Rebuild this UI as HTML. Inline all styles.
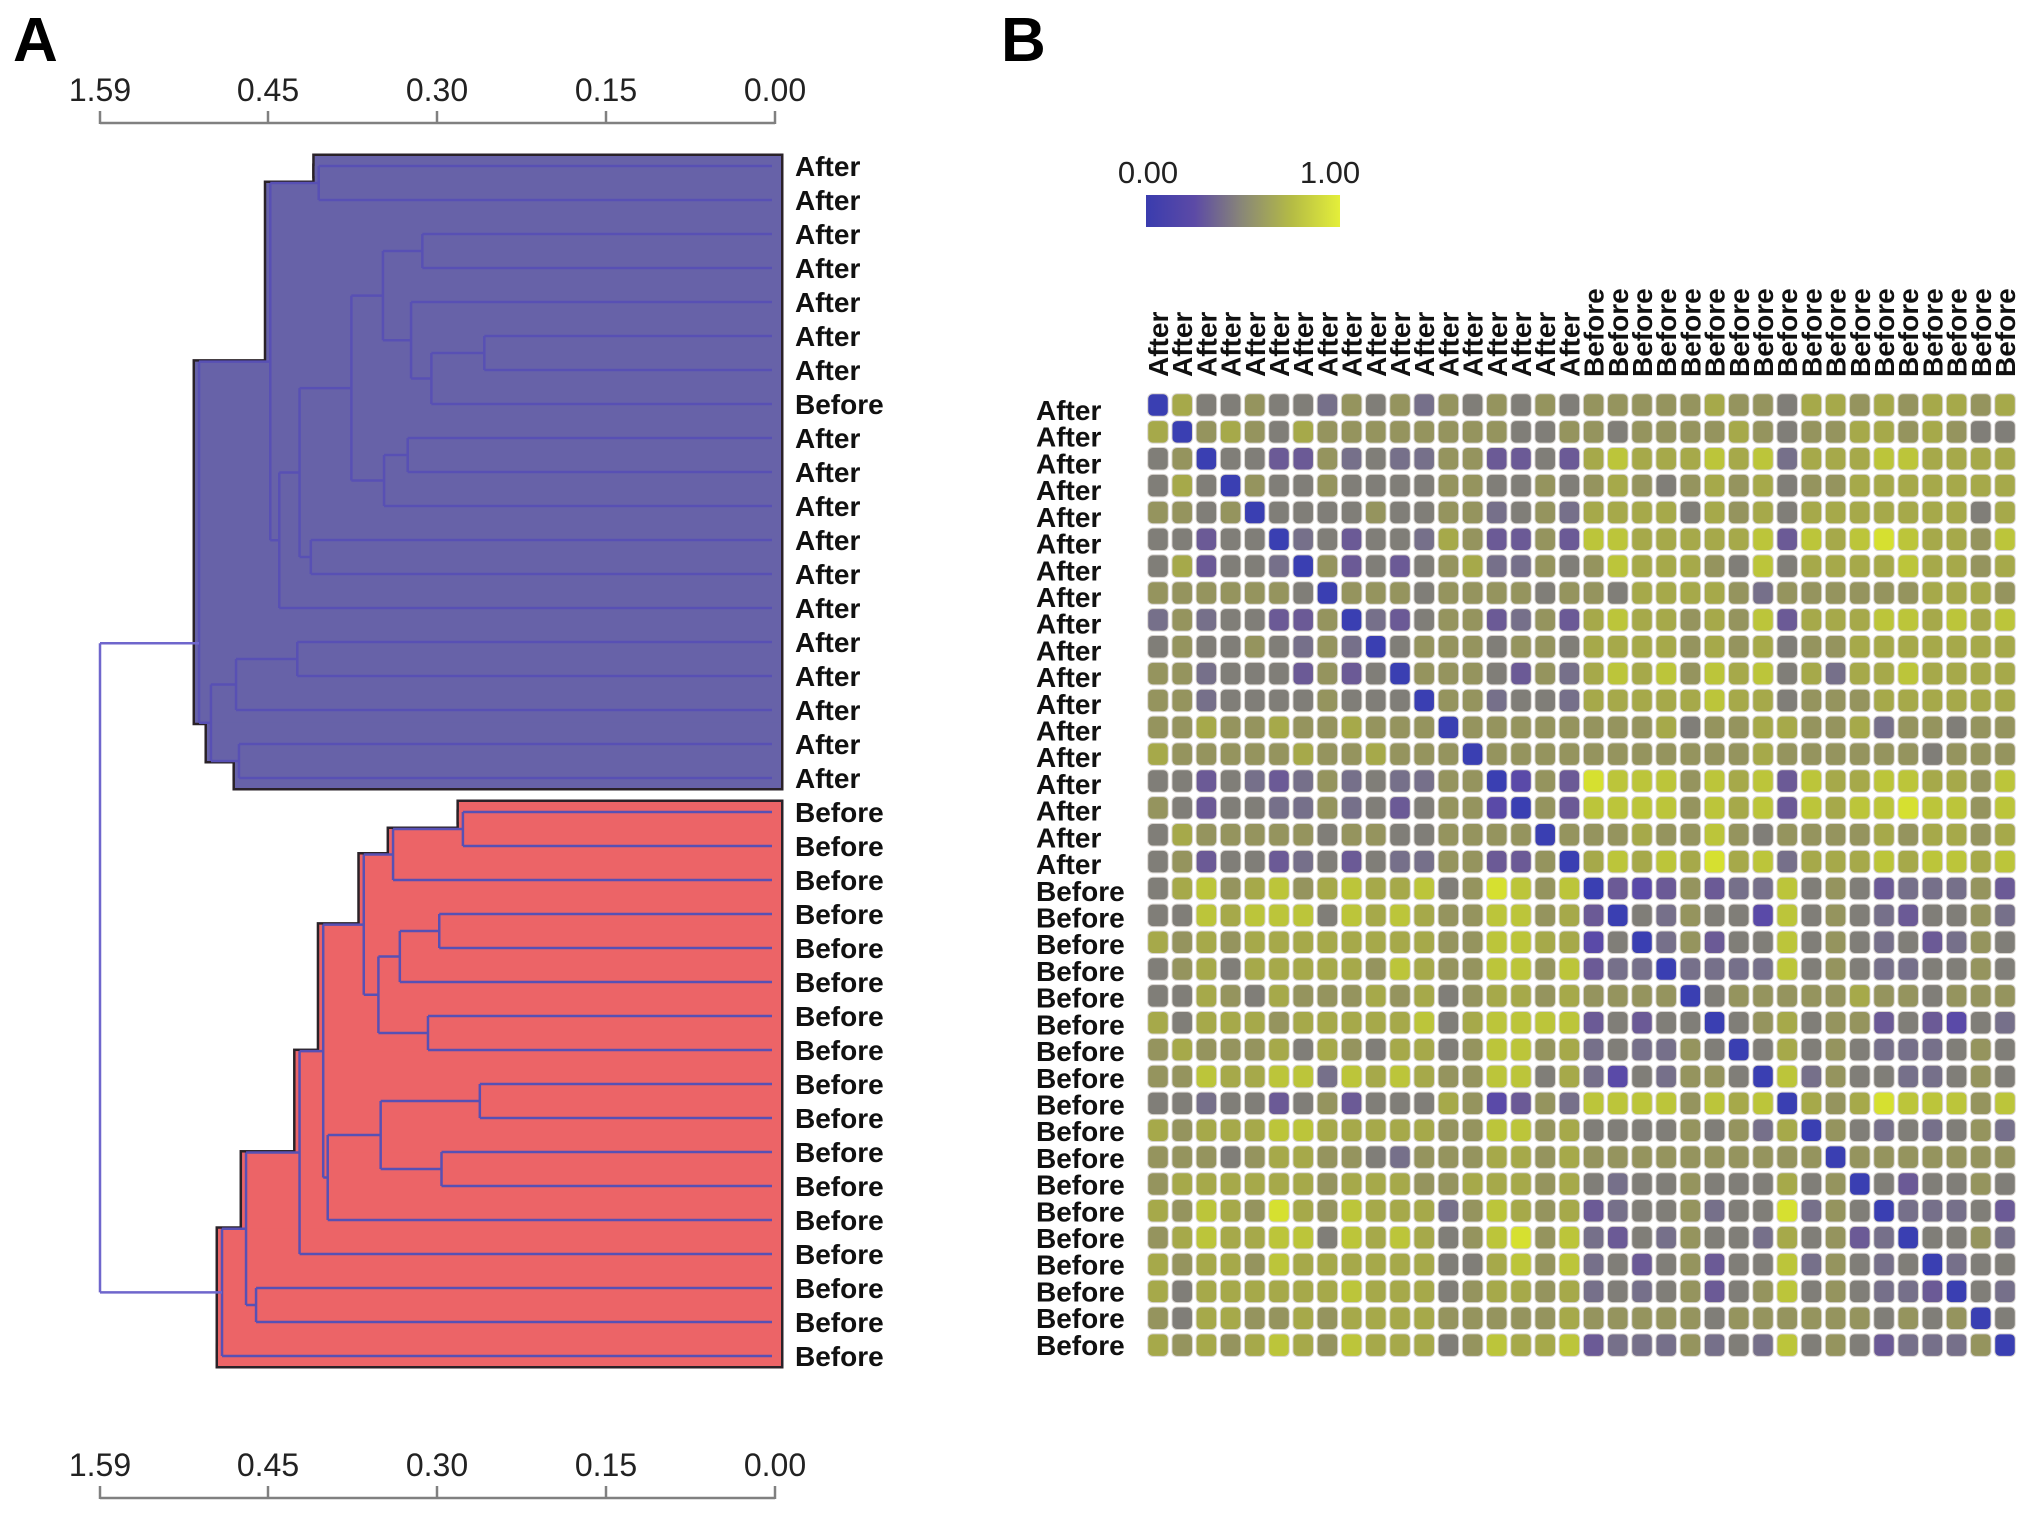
<!DOCTYPE html>
<html><head><meta charset="utf-8">
<style>
html,body{margin:0;padding:0;background:#fff;}
#root{position:relative;width:2031px;height:1514px;overflow:hidden;}
svg text{font-family:"Liberation Sans",Arial,sans-serif;}
</style></head>
<body>
<div id="root">
<svg id="svg" width="2031" height="1514" viewBox="0 0 2031 1514" xmlns="http://www.w3.org/2000/svg">
  <defs>
    <linearGradient id="cbar" x1="0" x2="1" y1="0" y2="0">
      <stop offset="0" stop-color="#3a3cae"/>
      <stop offset="0.25" stop-color="#5c4aa6"/>
      <stop offset="0.5" stop-color="#8a8876"/>
      <stop offset="0.75" stop-color="#b4bb45"/>
      <stop offset="1" stop-color="#e4ef3a"/>
    </linearGradient>
  </defs>
  <text x="13" y="61" font-size="62" font-weight="bold" fill="#000">A</text>
  <text x="1001" y="61" font-size="62" font-weight="bold" fill="#000">B</text>
  <g id="dendro"></g>
  <g id="heat"></g>
  <g>
    <rect x="1146" y="195" width="194" height="32" fill="url(#cbar)"/>
    <text x="1148" y="183" font-size="31" text-anchor="middle" fill="#222">0.00</text>
    <text x="1330" y="183" font-size="31" text-anchor="middle" fill="#222">1.00</text>
  </g>
</svg>
</div>
<script>
const NS = "http://www.w3.org/2000/svg";
// ---------- Dendrogram data ----------
const leafLabels = ["After","After","After","After","After","After","After","Before","After","After","After","After","After","After","After","After","After","After","After",
  "Before","Before","Before","Before","Before","Before","Before","Before","Before","Before","Before","Before","Before","Before","Before","Before","Before"];
const mergeLeft  = [0,2,5,38,4,37,8,42,41,11,44,46,36,14,49,17,50,48, 19,54,22,56,25,57,55,27,29,61,63,60,65,33,66,68,53];
const mergeRight = [1,3,6,7,39,40,9,10,43,12,45,13,47,15,16,18,51,52, 20,21,23,24,26,58,59,28,30,62,31,64,32,34,67,35,69];
const mergeDist  = [0.405,0.313,0.258,0.305,0.323,0.348,0.326,0.347,0.376,0.412,0.422,0.44,0.448,0.424,0.667,0.647,0.837,0.918,
  0.277,0.339,0.298,0.333,0.308,0.352,0.365,0.262,0.296,0.35,0.397,0.401,0.422,0.531,0.599,0.762,1.59];
const axisTicks = [1.59,0.45,0.30,0.15,0.00];
const axisTickLabels = ["1.59","0.45","0.30","0.15","0.00"];

// ---------- Heatmap data (0 = blue/0.00 ... 9 = yellow/1.00) ----------
const heatRowLabels = leafLabels.slice(0,18).map(()=>"After").concat(Array(18).fill("Before"));
const heatColLabels = Array(18).fill("After").concat(Array(18).fill("Before"));
const heatRows = [
"075565546564656565"+"666667665776767767",
"706765766666666556"+"656666765667767655",
"560553364544663353"+"787778784777887777",
"575065565555665565"+"676567675667777777",
"665605555655664564"+"777757675777777757",
"553550453554763363"+"887777783878987768",
"573554063535674465"+"687776585777787767",
"666666506665666656"+"657777646666667776",
"464553360435663463"+"787767683777887878",
"565565464056665665"+"777767675667777777",
"664555363506665364"+"787868785747787777",
"664555565550664554"+"777778775666777777",
"667667667666066666"+"666756677667466566",
"766666766766606666"+"666666676666665666",
"553543464544660263"+"988868783877887768",
"653554464535662063"+"888868783878898868",
"576666656655666606"+"667668656666767767",
"563553453544663360"+"787879784777878878",
"578678678778569868"+"032363448565344463",
"558788858787668867"+"305465528565435564",
"767677777777668877"+"250463558565453465",
"567577777687668868"+"344044448565445565",
"557657666767567767"+"666605666667665666",
"757776777778578888"+"353550567566353254",
"676667576577568867"+"454465057565444565",
"668778848787668857"+"425466508465544565",
"554553563555762364"+"888868780767988868",
"767778877777668867"+"555565647065454564",
"666567766546667767"+"666666666606666666",
"677777767776677767"+"545565557560535565",
"768769768777468767"+"345564559465044453",
"678778858787568968"+"435465547563405564",
"767768777777557868"+"453563558465450455",
"757777778777567767"+"454563568565443054",
"657766767777666667"+"666665666666565605",
"767678768777568778"+"344464548565344460"
];

function el(tag, attrs, parent){
  const e = document.createElementNS(NS, tag);
  for (const k in attrs) e.setAttribute(k, attrs[k]);
  parent.appendChild(e);
  return e;
}

// ---------- Dendrogram ----------
const dg = document.getElementById('dendro');
const RIGHT = 775, X045 = 268, XMAX = 100;
function xScale(d){
  if (d <= 0.45) return RIGHT - d/0.45*(RIGHT - X045);
  return X045 - (d-0.45)/(1.59-0.45)*(X045 - XMAX);
}
const leafY0 = 166, leafStep = 34;
function leafY(i){ return leafY0 + i*leafStep; }
const nLeaf = leafLabels.length;
const nodeX = [], nodeY = [], parentOf = [];
for (let i=0;i<nLeaf;i++){ nodeX[i]=RIGHT; nodeY[i]=leafY(i); }
for (let k=0;k<mergeDist.length;k++){
  const id = nLeaf+k, a=mergeLeft[k], b=mergeRight[k];
  nodeX[id] = xScale(mergeDist[k]);
  nodeY[id] = (nodeY[a]+nodeY[b])/2;
  parentOf[a]=id; parentOf[b]=id;
}
const ROOT = nLeaf + mergeDist.length - 1;
const blueRoot = mergeLeft[mergeDist.length-1], redRoot = mergeRight[mergeDist.length-1];
(function(){
  const k = blueRoot - nLeaf, a = mergeLeft[k], b = mergeRight[k];
  nodeY[blueRoot] = nodeY[a] + 0.78*(nodeY[b]-nodeY[a]);
})();
function under(node, top){ let n=node; while(n!==undefined){ if(n===top) return true; n=parentOf[n]; } return false; }

function drawAxis(lineY, labelY, name){
  const g = el('g', {}, dg);
  
  
  const ln = el('line', {x1:xScale(axisTicks[0]), x2:xScale(axisTicks[axisTicks.length-1]), y1:lineY, y2:lineY, stroke:'#808080','stroke-width':2.5}, g);
  
  
  axisTicks.forEach((t,i)=>{
    const x = xScale(t);
    const tk = el('line', {x1:x,x2:x,y1:lineY-12,y2:lineY+1,stroke:'#808080','stroke-width':2.5}, g);
    
    
    const tx = el('text', {x:x, y:labelY, 'font-size':32, 'text-anchor':'middle', fill:'#222'}, g);
    tx.textContent = axisTickLabels[i];
    
    
  });
}
drawAxis(123, 101, 'top-distance-axis');
drawAxis(1498, 1476, 'bottom-distance-axis');

function clusterRects(top){
  const rects = [];
  const PAD = 10, BOXR = 781;
  for (let i=0;i<nLeaf;i++){
    if (!under(i, top)) continue;
    const px = nodeX[parentOf[i]] - 4;
    rects.push([px, leafY(i)-PAD, BOXR-px, 2*PAD]);
  }
  for (let k=0;k<mergeDist.length-1;k++){
    const id=nLeaf+k;
    if (!under(id, top)) continue;
    const a=mergeLeft[k], b=mergeRight[k];
    const y1=Math.min(nodeY[a],nodeY[b]), y2=Math.max(nodeY[a],nodeY[b]);
    const px = nodeX[id]-4;
    rects.push([px, y1, BOXR-px, y2-y1]);
  }
  return rects;
}
[[blueRoot,'#6762a8','blue-cluster-shading'],[redRoot,'#ec6467','red-cluster-shading']].forEach(([top,fill,name])=>{
  const g = el('g', {}, dg);
  
  
  const rs = clusterRects(top);
  rs.forEach(r=>{ el('rect',{x:r[0],y:r[1],width:r[2],height:r[3],fill:'none',stroke:'#2a2228','stroke-width':5},g); });
  rs.forEach(r=>{ el('rect',{x:r[0],y:r[1],width:r[2],height:r[3],fill:fill},g); });
});

const bg = el('g', {}, dg);


for (let k=0;k<mergeDist.length;k++){
  const id=nLeaf+k, a=mergeLeft[k], b=mergeRight[k], x=nodeX[id];
  const col = id===ROOT ? '#6f66cc' : '#5850b4';
  const v = el('path', {d:`M${x},${nodeY[a]}V${nodeY[b]}`, stroke:col,'stroke-width':2.5, fill:'none'}, bg);
  
  
  [a,b].forEach(c=>{
    const endX = c < nLeaf ? RIGHT-3 : nodeX[c];
    const h = el('path', {d:`M${x},${nodeY[c]}H${endX}`, stroke:col,'stroke-width':2.5, fill:'none'}, bg);
    
    
  });
}
leafLabels.forEach((lab,i)=>{
  const t = el('text', {x:795, y:leafY(i)+10, 'font-size':28, 'font-weight':'bold', fill:'#111'}, dg);
  t.textContent = lab;
  
  
});

// ---------- Heatmap ----------
const hg = document.getElementById('heat');
const cx0 = 1158, cxStep = 24.2, cy0 = 405, cyStep = 26.86;
const cellW = 20.5, cellH = 22.5;
const cmapStops = [[0,[58,63,178]],[2,[90,74,168]],[3,[107,90,150]],[4,[118,112,138]],[5,[128,126,120]],[6,[149,148,94]],[7,[166,169,74]],[8,[188,197,58]],[9,[214,224,48]]];
function colorOf(v){
  for (let i=0;i<cmapStops.length-1;i++){
    const [v0,c0]=cmapStops[i],[v1,c1]=cmapStops[i+1];
    if (v<=v1){ const t=(v-v0)/(v1-v0); return `rgb(${c0.map((c,j)=>Math.round(c+(c1[j]-c)*t)).join(',')})`; }
  }
  const c=cmapStops[cmapStops.length-1][1]; return `rgb(${c.join(',')})`;
}
function colX(j){ return cx0 + j*cxStep; }
function rowY(i){ return cy0 + i*cyStep; }
heatRows.forEach((row,i)=>{
  for (let j=0;j<row.length;j++){
    const v = +row[j];
    const r = el('rect', {x:colX(j)-cellW/2, y:rowY(i)-cellH/2, width:cellW, height:cellH, rx:5, ry:5, fill:colorOf(v), stroke:'#d8d4d0','stroke-width':1}, hg);
    
    
  }
});
heatRowLabels.forEach((lab,i)=>{
  const t = el('text', {x:1036, y:rowY(i)+15 - i*0.15, 'font-size':28, 'font-weight':'bold', fill:'#111'}, hg);
  t.textContent = lab;
  
  
});
heatColLabels.forEach((lab,j)=>{
  const x = colX(j)+10, y = 377;
  const t = el('text', {x:x, y:y, 'font-size':28, 'font-weight':'bold', fill:'#111', transform:`rotate(-90 ${x} ${y})`}, hg);
  t.textContent = lab;
  
  
});
</script>
</body></html>
